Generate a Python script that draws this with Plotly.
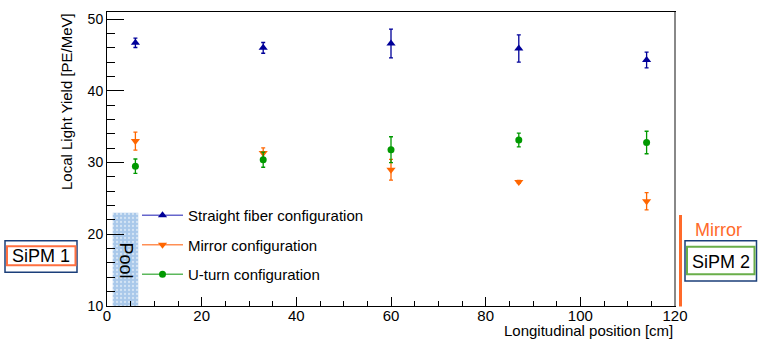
import plotly.graph_objects as go

# ---- data ----
positions = [6, 33, 60, 87, 114]
straight = [46.7, 46.0, 46.6, 45.9, 44.3]
straight_err = [0.65, 0.75, 2.0, 1.9, 1.1]
mirror = [33.0, 31.35, 29.0, 27.3, 24.6]
mirror_err = [1.25, 0.7, 1.45, 0.2, 1.2]
uturn = [29.5, 30.4, 31.8, 33.15, 32.8]
uturn_err = [1.0, 1.05, 1.8, 0.95, 1.57]

series_names = ["Straight fiber configuration", "Mirror configuration", "U-turn configuration"]

BLUE = "#000099"
ORANGE = "#ff6600"
GREEN = "#009900"
BLUE_L = "#6666cc"
ORANGE_L = "#ff8f55"
GREEN_L = "#5cb85c"

FONT = "Liberation Sans, Arial, Helvetica, sans-serif"

# plot-area pixel geometry
W, H = 762, 340
L, R, T, B = 107, 675, 12, 306


def pxx(x):
    return (x - L) / (R - L)


def pxy(y):
    return (B - y) / (B - T)


fig = go.Figure()

# Pool region
POOL_X = [1.2, 6.6]
POOL_TOP = 23
fig.add_trace(go.Scatter(
    x=[POOL_X[0], POOL_X[1], POOL_X[1], POOL_X[0], POOL_X[0]],
    y=[10, 10, POOL_TOP, POOL_TOP, 10],
    mode="lines", fill="toself", line=dict(width=0),
    fillcolor="#a9c8ea",
    fillpattern=dict(shape=".", fgcolor="#ffffff", bgcolor="#a9c8ea", size=4, solidity=0.25),
    showlegend=False, hoverinfo="skip"))

specs = [
    (straight, straight_err, "triangle-up", 8, BLUE, BLUE_L),
    (mirror, mirror_err, "triangle-down", 8, ORANGE, ORANGE_L),
    (uturn, uturn_err, "circle", 7, GREEN, GREEN_L),
]

for name, (vals, errs, sym, size, col, lcol) in zip(series_names, specs):
    fig.add_trace(go.Scatter(
        x=positions, y=vals, mode="markers",
        marker=dict(symbol=sym, size=size, color=col, line=dict(width=0)),
        error_y=dict(type="data", array=errs, visible=True, color=col, thickness=1.3, width=2),
        showlegend=False, name=name))

for i, (name, (vals, errs, sym, size, col, lcol)) in enumerate(zip(series_names, specs)):
    fig.add_trace(go.Scatter(
        x=[None], y=[None], mode="lines+markers", name=name,
        legendgroup=str(i),
        marker=dict(symbol=sym, size=size, color=col),
        line=dict(color=lcol, width=1.5)))

shapes = []
annotations = []

# frame right border (gray)
shapes.append(dict(type="line", xref="paper", yref="paper", x0=1, x1=1, y0=0, y1=1,
                   line=dict(color="#888888", width=2)))

# Mirror line
shapes.append(dict(type="line", xref="paper", yref="paper", x0=pxx(680.5), x1=pxx(680.5),
                   y0=pxy(215), y1=pxy(306.5), line=dict(color="#ff6a2a", width=3)))

# SiPM 1 boxes
shapes.append(dict(type="rect", xref="paper", yref="paper", x0=pxx(5), x1=pxx(77),
                   y0=pxy(272.3), y1=pxy(240.7), line=dict(color="#1b3f7a", width=1.5)))
shapes.append(dict(type="rect", xref="paper", yref="paper", x0=pxx(7), x1=pxx(75.5),
                   y0=pxy(265.3), y1=pxy(246.3), line=dict(color="#ff7040", width=2)))
# SiPM 2 boxes
shapes.append(dict(type="rect", xref="paper", yref="paper", x0=pxx(685), x1=pxx(756.5),
                   y0=pxy(281), y1=pxy(240.7), line=dict(color="#1b3f7a", width=1.5)))
shapes.append(dict(type="rect", xref="paper", yref="paper", x0=pxx(687), x1=pxx(754.5),
                   y0=pxy(274.3), y1=pxy(246.7), line=dict(color="#6aae4a", width=2)))

annotations += [
    dict(text="SiPM 1", x=pxx(40.5), y=pxy(256), xref="paper", yref="paper", showarrow=False,
         font=dict(family=FONT, size=18, color="black"), xanchor="center", yanchor="middle"),
    dict(text="SiPM 2", x=pxx(721), y=pxy(262), xref="paper", yref="paper", showarrow=False,
         font=dict(family=FONT, size=18, color="black"), xanchor="center", yanchor="middle"),
    dict(text="Mirror", x=pxx(718), y=pxy(230), xref="paper", yref="paper", showarrow=False,
         font=dict(family=FONT, size=18, color="#ff6a2a"), xanchor="center", yanchor="middle"),
    dict(text="Pool", x=pxx(125.5), y=pxy(260), xref="paper", yref="paper", showarrow=False,
         textangle=90, font=dict(family=FONT, size=18, color="black"), xanchor="center", yanchor="middle"),
    dict(text="Local Light Yield [PE/MeV]", x=pxx(66), y=pxy(102), xref="paper", yref="paper",
         showarrow=False, textangle=-90, font=dict(family=FONT, size=15, color="black"),
         xanchor="center", yanchor="middle"),
    dict(text="Longitudinal position [cm]", x=1, y=pxy(330.5), xref="paper", yref="paper",
         showarrow=False, font=dict(family=FONT, size=15, color="black"),
         xanchor="right", yanchor="middle"),
]

fig.update_layout(
    width=W, height=H,
    margin=dict(l=L, r=W - R, t=T, b=H - B, pad=0),
    paper_bgcolor="white", plot_bgcolor="white",
    font=dict(family=FONT, size=15, color="black"),
    shapes=shapes, annotations=annotations,
    showlegend=True,
    legend=dict(x=pxx(137), y=pxy(199), xanchor="left", yanchor="top",
                bgcolor="rgba(0,0,0,0)", font=dict(family=FONT, size=15),
                tracegroupgap=7, itemwidth=41),
    xaxis=dict(range=[0, 120], dtick=20, tick0=0, ticks="inside", ticklen=9, tickwidth=1,
               tickcolor="black", showline=True, linecolor="black", linewidth=1, mirror=True,
               showgrid=False, zeroline=False, tickfont=dict(family=FONT, size=15),
               ticklabelstandoff=-4,
               minor=dict(dtick=5, ticks="inside", ticklen=5, tickcolor="black", showgrid=False)),
    yaxis=dict(range=[10, 51], dtick=10, tick0=10, ticks="inside", ticklen=17, tickwidth=1,
               tickcolor="black", showline=True, linecolor="black", linewidth=1, mirror=True,
               showgrid=False, zeroline=False, tickfont=dict(family=FONT, size=14),
               minor=dict(dtick=2, ticks="inside", ticklen=8, tickcolor="black", showgrid=False)),
)

fig.write_html("out.html", config={"displayModeBar": False},
               post_script="document.body.style.margin='0px';document.body.style.overflow='hidden';")
